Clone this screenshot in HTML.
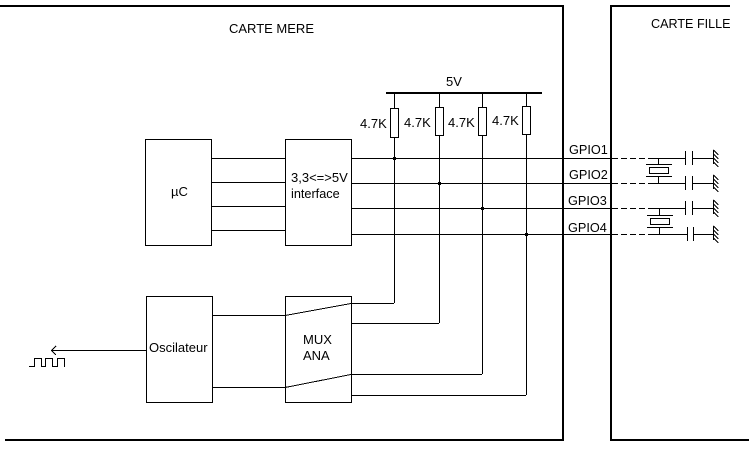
<!DOCTYPE html>
<html>
<head>
<meta charset="utf-8">
<style>
html,body{margin:0;padding:0;background:#fff;width:755px;height:449px;overflow:hidden}
svg{display:block}
text{font-family:"Liberation Sans",sans-serif;font-size:13px;fill:#000}
</style>
</head>
<body>
<svg width="755" height="449" viewBox="0 0 755 449" xmlns="http://www.w3.org/2000/svg">
<defs>
<g id="gnd" fill="none" stroke="#000" stroke-width="1" shape-rendering="crispEdges">
<path d="M0.5 -8V6M0.5 -8L5.5 -3M0.5 -4L5.5 1M0.5 0L5.5 5M0.5 4L5.5 9" />
</g>
</defs>
<!-- boards -->
<g fill="none" stroke="#000" stroke-width="2" shape-rendering="crispEdges">
<path d="M0 6H563V440H5"/>
<path d="M730 6H611V440H749"/>
<path d="M386 93H542"/>
</g>
<g fill="none" stroke="#000" stroke-width="1" shape-rendering="crispEdges">
<!-- boxes -->
<rect x="145.5" y="139.5" width="66" height="106"/>
<rect x="285.5" y="139.5" width="66" height="106"/>
<rect x="146.5" y="296.5" width="66" height="106"/>
<rect x="285.5" y="296.5" width="66" height="106"/>
<!-- uC to interface -->
<path d="M212 158.5H285M212 182.5H285M212 206.5H285M212 230.5H285"/>
<!-- GPIO -->
<path d="M352 158.5H611M352 183.5H611M352 208.5H611M352 234.5H611"/>
<!-- pull-ups -->
<path d="M394.5 93V108M394.5 138V303"/>
<path d="M439.5 93V107M439.5 136V323"/>
<path d="M482.5 93V107M482.5 136V374"/>
<path d="M526.5 93V106M526.5 135V395"/>
<rect x="390.5" y="108.5" width="8" height="29" fill="#fff"/>
<rect x="435.5" y="107.5" width="8" height="28" fill="#fff"/>
<rect x="478.5" y="107.5" width="8" height="28" fill="#fff"/>
<rect x="522.5" y="106.5" width="8" height="28" fill="#fff"/>
<!-- mux outputs -->
<path d="M351 303.5H394M351 323.5H439M351 374.5H482M351 395.5H526"/>
<!-- osc to mux -->
<path d="M213 315.5H285M213 387.5H285"/>
<!-- dashed -->
<path d="M612 158.5H652M612 183.5H652M612 208.5H652M612 234.5H652" stroke-dasharray="6 3"/>
<path d="M652 158.5H685M652 183.5H685M652 208.5H685M652 234.5H687"/>
<!-- caps -->
<path d="M685.5 151V165M692.5 151V165M692 158.5H713"/>
<path d="M685.5 176V190M692.5 176V190M692 183.5H713"/>
<path d="M685.5 201V215M692.5 201V215M692 208.5H713"/>
<path d="M687.5 227V241M693.5 227V241M693 234.5H713"/>
<!-- crystal 1 -->
<path d="M658.5 158V164M646 164.5H672M646 176.5H672M658.5 177V183"/>
<rect x="649.5" y="167.5" width="19" height="6"/>
<!-- crystal 2 -->
<path d="M659.5 208V215M647 215.5H673M647 227.5H673M659.5 228V234"/>
<rect x="650.5" y="218.5" width="19" height="6"/>
<!-- arrow line -->
<path d="M51 350.5H146"/>
<!-- square wave -->
<path d="M29 366.5H34.5V358.5H41.5V366.5H45.5V358.5H52.5V366.5H57.5V358.5H64.5V367"/>
<!-- mux slants, arrow head -->
<path d="M285 315.5L351 303.5M285 387.5L351 374.5"/>
<path d="M56 346L51.5 350.5L56 355"/>
</g>
<use href="#gnd" x="713" y="158"/>
<use href="#gnd" x="713" y="183"/>
<use href="#gnd" x="713" y="208"/>
<use href="#gnd" x="713" y="234"/>
<!-- junction dots -->
<g fill="#000" shape-rendering="crispEdges">
<rect x="393" y="157" width="3" height="3"/>
<rect x="438" y="182" width="3" height="3"/>
<rect x="481" y="207" width="3" height="3"/>
<rect x="525" y="233" width="3" height="3"/>
</g>
<!-- labels -->
<text x="229" y="33">CARTE MERE</text>
<text x="651" y="28" style="font-size:12.6px">CARTE FILLE</text>
<text x="446" y="86">5V</text>
<text x="360" y="128">4.7K</text>
<text x="404" y="127">4.7K</text>
<text x="448" y="127">4.7K</text>
<text x="492" y="125">4.7K</text>
<text x="569" y="154" style="font-size:12.7px">GPIO1</text>
<text x="569" y="179" style="font-size:12.7px">GPIO2</text>
<text x="568" y="205" style="font-size:12.7px">GPIO3</text>
<text x="568" y="232" style="font-size:12.7px">GPIO4</text>
<text x="171" y="196">µC</text>
<text x="291" y="182">3,3&lt;=&gt;5V</text>
<text x="291" y="198" style="font-size:12.7px">interface</text>
<text x="149" y="352">Oscilateur</text>
<text x="303" y="344">MUX</text>
<text x="303" y="360">ANA</text>
</svg>
</body>
</html>
